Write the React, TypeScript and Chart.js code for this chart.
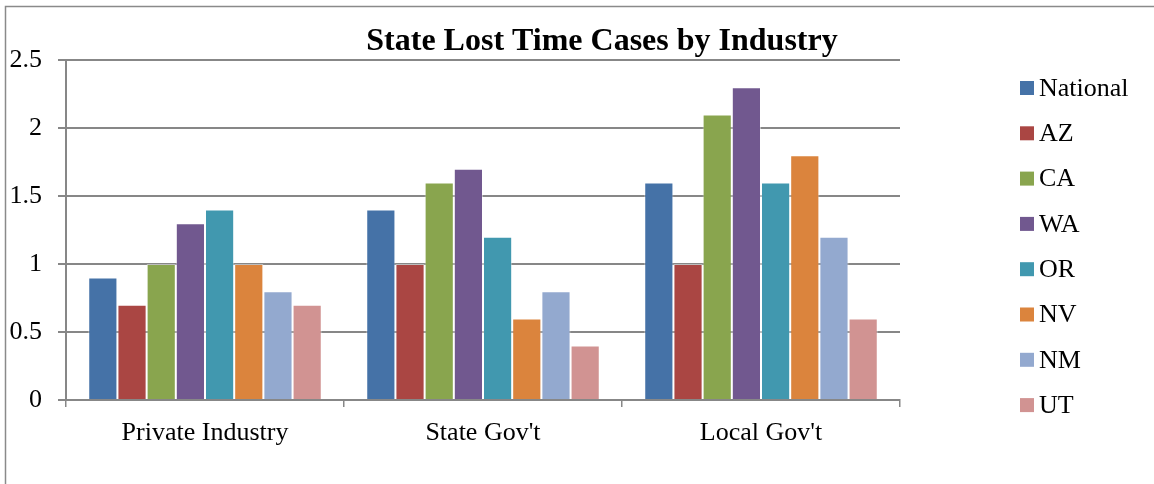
import React, { useEffect, useRef } from "react";
import { Chart, registerables } from "chart.js";

Chart.register(...registerables);

const categories = ["Private Industry", "State Gov't", "Local Gov't"];
const seriesNames = ["National", "AZ", "CA", "WA", "OR", "NV", "NM", "UT"];
const national = [0.9, 1.4, 1.6];
const az = [0.7, 1.0, 1.0];
const ca = [1.0, 1.6, 2.1];
const wa = [1.3, 1.7, 2.3];
const or = [1.4, 1.2, 1.6];
const nv = [1.0, 0.6, 1.8];
const nm = [0.8, 0.8, 1.2];
const ut = [0.7, 0.4, 0.6];
const seriesValues = [national, az, ca, wa, or, nv, nm, ut];
const colors = ["#4572A7", "#AA4643", "#89A54E", "#71588F", "#4198AF", "#DB843D", "#93A9CF", "#D19392"];
const titleText = "State Lost Time Cases by Industry";

const FONT = "'Liberation Serif', 'Times New Roman', serif";

const decorPlugin = {
  id: "decor",
  afterDraw(chart: any) {
    const ctx = chart.ctx;
    ctx.save();
    // outer border
    ctx.strokeStyle = "#8a8a8a";
    ctx.lineWidth = 1.5;
    ctx.beginPath();
    ctx.moveTo(5.5, 2000);
    ctx.lineTo(5.5, 6.5);
    ctx.lineTo(2000, 6.5);
    ctx.stroke();
    // title
    ctx.fillStyle = "#000";
    ctx.font = `bold 32px ${FONT}`;
    ctx.textAlign = "center";
    ctx.textBaseline = "middle";
    ctx.fillText(titleText, 602, 42);
    // legend
    ctx.font = `26px ${FONT}`;
    ctx.textAlign = "left";
    chart.data.datasets.forEach((ds: any, i: number) => {
      const cy = 88 + i * 45.3;
      ctx.fillStyle = ds.backgroundColor;
      ctx.fillRect(1020, cy - 7, 14, 14);
      ctx.fillStyle = "#000";
      ctx.fillText(ds.label, 1039, cy + 1);
    });
    ctx.restore();
  },
};

export default function App() {
  const ref = useRef<HTMLCanvasElement | null>(null);
  useEffect(() => {
    document.body.style.margin = "0";
    const canvas = ref.current;
    if (!canvas) return;
    const chart = new Chart(canvas, {
      type: "bar",
      data: {
        labels: categories,
        datasets: seriesNames.map((name, i) => ({
          label: name,
          data: seriesValues[i],
          backgroundColor: colors[i],
          borderWidth: { top: 1, left: 1, right: 1, bottom: 0 },
          borderColor: "rgba(255,255,255,0.45)",
          barPercentage: 1,
          categoryPercentage: 0.84,
        })),
      },
      options: {
        animation: false,
        responsive: false,
        devicePixelRatio: 1,
        layout: { padding: { left: 0, top: 60, right: 254, bottom: 0 } },
        plugins: {
          legend: { display: false },
          title: { display: false },
          tooltip: { enabled: false },
        },
        scales: {
          x: {
            grid: {
              display: true,
              drawOnChartArea: false,
              drawTicks: true,
              tickLength: 7,
              color: "#878787",
              lineWidth: 1.5,
            },
            border: { display: true, color: "#878787", width: 2 },
            ticks: {
              color: "#000",
              font: { family: FONT, size: 26 },
              padding: 11,
              maxRotation: 0,
            },
            afterFit: (scale: any) => {
              scale.height = 84;
            },
          },
          y: {
            min: 0,
            max: 2.5,
            grid: {
              color: "#878787",
              lineWidth: 2,
              drawTicks: true,
              tickLength: 8,
            },
            border: { display: true, color: "#878787", width: 2 },
            ticks: {
              stepSize: 0.5,
              color: "#000",
              font: { family: FONT, size: 26 },
              padding: 16,
              callback: (v: any) => String(v),
            },
            afterFit: (scale: any) => {
              scale.width = 66;
            },
          },
        },
      },
      plugins: [decorPlugin],
    });
    return () => chart.destroy();
  }, []);
  return <canvas ref={ref} width={1154} height={484} style={{ display: "block" }} />;
}
